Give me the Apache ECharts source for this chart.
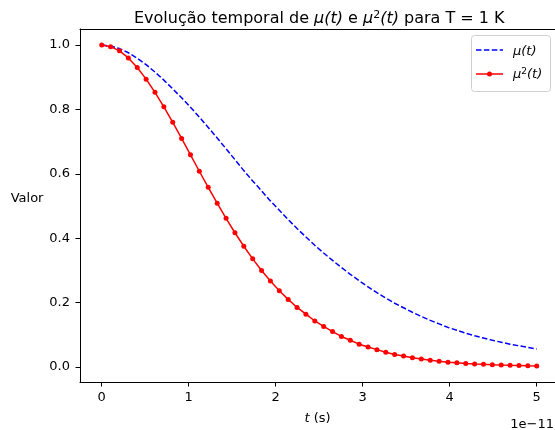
<!DOCTYPE html>
<html>
<head>
<meta charset="utf-8">
<script src="https://cdn.jsdelivr.net/npm/echarts@6/dist/echarts.min.js"></script>
<style>
html,body{margin:0;padding:0;background:#fff;}
#chart{width:555px;height:430px;}
</style>
</head>
<body>
<div id="chart"></div>
<script>
// time in units of 1e-11 s (50 samples from 0 to 5)
var times = [0.000,0.102,0.204,0.306,0.408,0.510,0.612,0.714,0.816,0.918,
             1.020,1.122,1.224,1.327,1.429,1.531,1.633,1.735,1.837,1.939,
             2.041,2.143,2.245,2.347,2.449,2.551,2.653,2.755,2.857,2.959,
             3.061,3.163,3.265,3.367,3.469,3.571,3.673,3.776,3.878,3.980,
             4.082,4.184,4.286,4.388,4.490,4.592,4.694,4.796,4.898,5.000];
var mu = [1.000,0.997,0.989,0.976,0.959,0.939,0.916,0.891,0.864,0.836,
          0.807,0.776,0.744,0.711,0.678,0.644,0.610,0.578,0.547,0.516,
          0.487,0.458,0.430,0.404,0.378,0.354,0.331,0.309,0.288,0.268,
          0.249,0.231,0.214,0.198,0.184,0.170,0.157,0.145,0.134,0.123,
          0.114,0.105,0.097,0.090,0.083,0.077,0.071,0.066,0.061,0.056];
var mu2 = [1.000,0.995,0.982,0.960,0.930,0.894,0.853,0.808,0.760,0.710,
           0.659,0.608,0.558,0.509,0.462,0.417,0.375,0.336,0.300,0.267,
           0.237,0.210,0.185,0.164,0.143,0.126,0.110,0.095,0.083,0.071,
           0.062,0.054,0.046,0.039,0.034,0.029,0.025,0.021,0.018,0.015,
           0.013,0.011,0.0095,0.0083,0.0072,0.0062,0.0053,0.0046,0.0039,0.0033];
var xTicks = [0,1,2,3,4,5];
var yTicks = [0,0.2,0.4,0.6,0.8,1.0];
var seriesNames = ['μ(t)','μ²(t)'];

function pairs(xs, ys){ return xs.map(function(x,i){ return [x, ys[i]]; }); }

var FONT = 'DejaVu Sans';
var BLUE = '#0000ff', RED = '#ff0000';
var DASH = [5.5,2.4];
function richSet(size){
  return {
    n:{fontFamily:FONT,fontSize:size,fontWeight:'normal',color:'#000',lineHeight:size+4,verticalAlign:'bottom'},
    i:{fontFamily:FONT,fontSize:size,fontWeight:'normal',fontStyle:'italic',color:'#000',lineHeight:size+4,verticalAlign:'bottom'},
    s:{fontFamily:FONT,fontSize:Math.round(size*0.7),fontWeight:'normal',fontStyle:'normal',color:'#000',lineHeight:size+4,verticalAlign:'bottom',padding:[0,0,Math.round(size*0.4),0]}
  };
}
var chart = echarts.init(document.getElementById('chart'), null, {renderer:'canvas'});
chart.setOption({
  animation:false,
  backgroundColor:'#fff',
  textStyle:{fontFamily:FONT},
  title:{
    text:'{n|Evolução temporal de }{i|μ(t)}{n| e }{i|μ}{s|2}{i|(t)}{n| para T = 1 K}',
    left:129, top:2,
    textStyle:{ rich: richSet(16) }
  },
  grid:{left:80,right:0,top:29,bottom:45,show:false},
  legend:{show:false, data:seriesNames},
  xAxis:[{
    type:'value', min:-0.25, max:5.21,
    name:'{i|t} (s)', nameLocation:'middle', nameGap:30,
    nameTextStyle:{fontFamily:FONT,fontSize:13,color:'#000',rich:{i:{fontStyle:'italic',fontFamily:FONT,fontSize:13,color:'#000'}}},
    axisLine:{show:true,onZero:false,lineStyle:{color:'#000',width:1}},
    axisTick:{show:true,length:4.5,customValues:xTicks,lineStyle:{color:'#000'}},
    axisLabel:{customValues:xTicks,margin:9,fontFamily:FONT,fontSize:13,color:'#000',
               formatter:function(v){return String(Math.round(v));}},
    splitLine:{show:false}
  },{
    type:'value', position:'top', min:-0.25, max:5.21,
    axisLine:{show:true,onZero:false,lineStyle:{color:'#000',width:1}},
    axisTick:{show:false}, axisLabel:{show:false}, splitLine:{show:false}
  }],
  yAxis:{
    type:'value', min:-0.0465, max:1.0498,
    name:'Valor', nameLocation:'middle', nameRotate:0, nameGap:35,
    nameTextStyle:{fontFamily:FONT,fontSize:13,color:'#000',verticalAlign:'bottom'},
    axisLine:{show:true,onZero:false,lineStyle:{color:'#000',width:1}},
    axisTick:{show:true,length:4.5,customValues:yTicks,lineStyle:{color:'#000'}},
    axisLabel:{customValues:yTicks,margin:10,fontFamily:FONT,fontSize:13,color:'#000',
               formatter:function(v){return v.toFixed(1);}},
    splitLine:{show:false}
  },
  graphic:[
    {type:'text', right:1, top:418, style:{text:'1e−11', font:'13px "DejaVu Sans"', fill:'#000'}},
    {type:'group', left:471, top:35, children:[
      {type:'rect', shape:{x:0.5,y:0.5,width:79,height:56,r:3}, style:{fill:'rgba(255,255,255,0.8)',stroke:'#d0d0d0',lineWidth:1}},
      {type:'line', shape:{x1:5,y1:15,x2:32,y2:15}, style:{stroke:BLUE,lineWidth:1.5,lineDash:DASH}},
      {type:'text', x:42, y:15, style:{text:'{i|μ(t)}', rich:richSet(13), verticalAlign:'middle'}},
      {type:'line', shape:{x1:5,y1:39,x2:32,y2:39}, style:{stroke:RED,lineWidth:1.5}},
      {type:'circle', shape:{cx:18.5,cy:39,r:2.5}, style:{fill:RED}},
      {type:'text', x:42, y:38, style:{text:'{i|μ}{s|2}{i|(t)}', rich:richSet(13), verticalAlign:'middle'}}
    ]}
  ],
  series:[
    {name:seriesNames[0], type:'line', xAxisIndex:0, data:pairs(times,mu), showSymbol:false, symbol:'none',
     lineStyle:{color:BLUE,width:1.5,type:DASH}, itemStyle:{color:BLUE}, z:2},
    {name:seriesNames[1], type:'line', xAxisIndex:0, data:pairs(times,mu2), symbol:'circle', symbolSize:5, showSymbol:true,
     lineStyle:{color:RED,width:1.5}, itemStyle:{color:RED}, z:3}
  ]
});
</script>
</body>
</html>
